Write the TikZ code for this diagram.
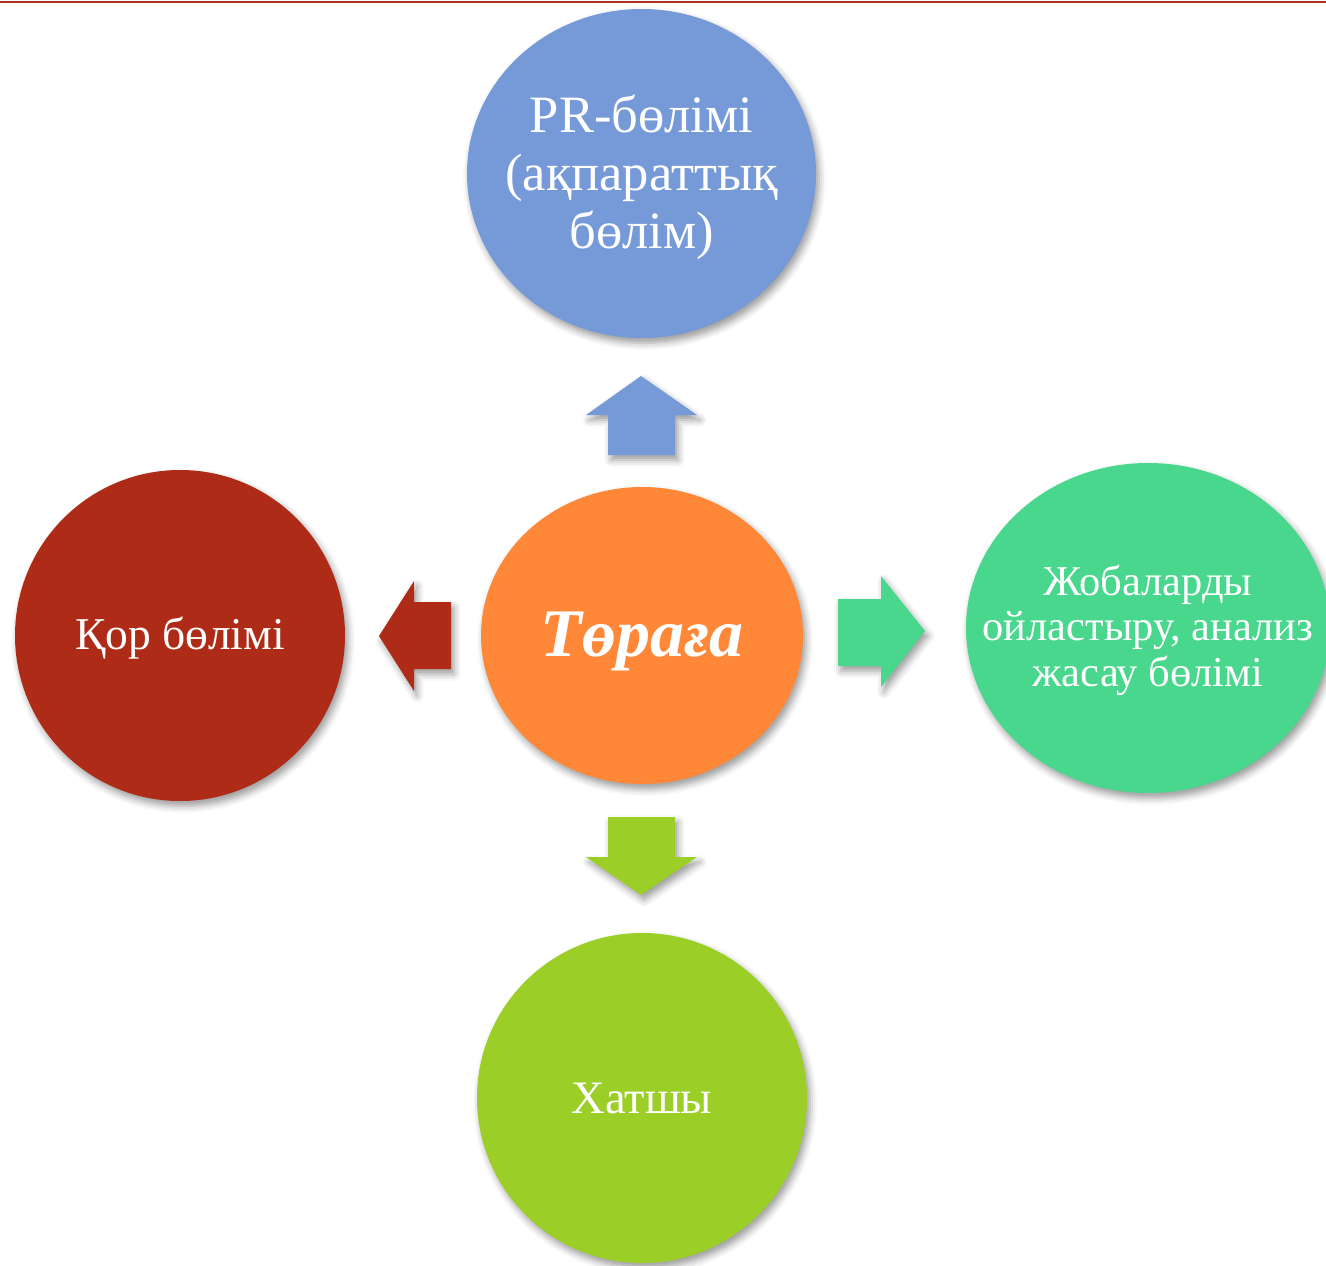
\documentclass[tikz,border=0pt]{standalone}
\usepackage{fontspec}
\setmainfont{Liberation Serif}
\usetikzlibrary{shadows.blur}
\definecolor{cblue}{RGB}{118,153,216}
\definecolor{corange}{RGB}{255,136,56}
\definecolor{cred}{RGB}{174,43,23}
\definecolor{cgreen}{RGB}{73,215,141}
\definecolor{clime}{RGB}{155,207,40}
\definecolor{cline}{RGB}{170,50,35}
\tikzset{
  softshadow/.style={blur shadow={shadow xshift=3pt,shadow yshift=-5pt,shadow blur radius=7pt,shadow opacity=40}},
  bubble/.style={draw=none,softshadow},
  label/.style={inner sep=0pt,text=white,align=center},
  blockarrow/.style={draw=none,softshadow},
}
\begin{document}
\begin{tikzpicture}[x=1pt,y=-1pt]
\useasboundingbox (0,0) rectangle (1326,1266);
\draw[cline,line width=2.4pt] (0,2.2) -- (1326,2.2);
% centres
\coordinate (prc) at (641.5,173.5);
\coordinate (torc) at (642,635.5);
\coordinate (korc) at (180,635.5);
\coordinate (jobc) at (1148,628);
\coordinate (hatc) at (642,1098);
% circles
\fill[bubble,cblue] (prc) ellipse [x radius=174.5, y radius=164.5];
\fill[bubble,corange] (torc) ellipse [x radius=161, y radius=148.5];
\fill[bubble,cred] (korc) ellipse [x radius=165, y radius=165.5];
\fill[bubble,cgreen] (jobc) ellipse [x radius=182, y radius=165];
\fill[bubble,clime] (hatc) ellipse [x radius=165, y radius=165];
% labels
\node[label,font=\fontsize{52.5}{58}\selectfont] (pr) at ([yshift=-4pt]prc) {PR-бөлімі\\(ақпараттық\\бөлім)};
\node[label,font=\fontsize{68}{72}\selectfont\bfseries\itshape] (tor) at ([yshift=-6pt]torc) {Төраға};
\node[label,font=\fontsize{45.5}{48}\selectfont] (kor) at ([yshift=-3pt]korc) {Қор бөлімі};
\node[label,font=\fontsize{46.5}{48}\selectfont] (hat) at (hatc) {Хатшы};
\node[label,font=\fontsize{42.5}{45.5}\selectfont] (job) at ([yshift=-2pt]jobc) {Жобаларды\\ойластыру, анализ\\жасау бөлімі};
% block arrows
\fill[blockarrow,cblue] (641,376) -- (697,415) -- (675,415) -- (675,455) -- (608,455) -- (608,415) -- (586,415) -- cycle;
\fill[blockarrow,clime] (608,817) -- (675,817) -- (675,857) -- (697,857) -- (641,895) -- (586,857) -- (608,857) -- cycle;
\fill[blockarrow,cred] (379,636) -- (414,581) -- (414,602) -- (451,602) -- (451,669) -- (414,669) -- (414,691) -- cycle;
\fill[blockarrow,cgreen] (838,599) -- (881,599) -- (881,576) -- (925,631) -- (881,687) -- (881,666) -- (838,666) -- cycle;
\end{tikzpicture}
\end{document}
